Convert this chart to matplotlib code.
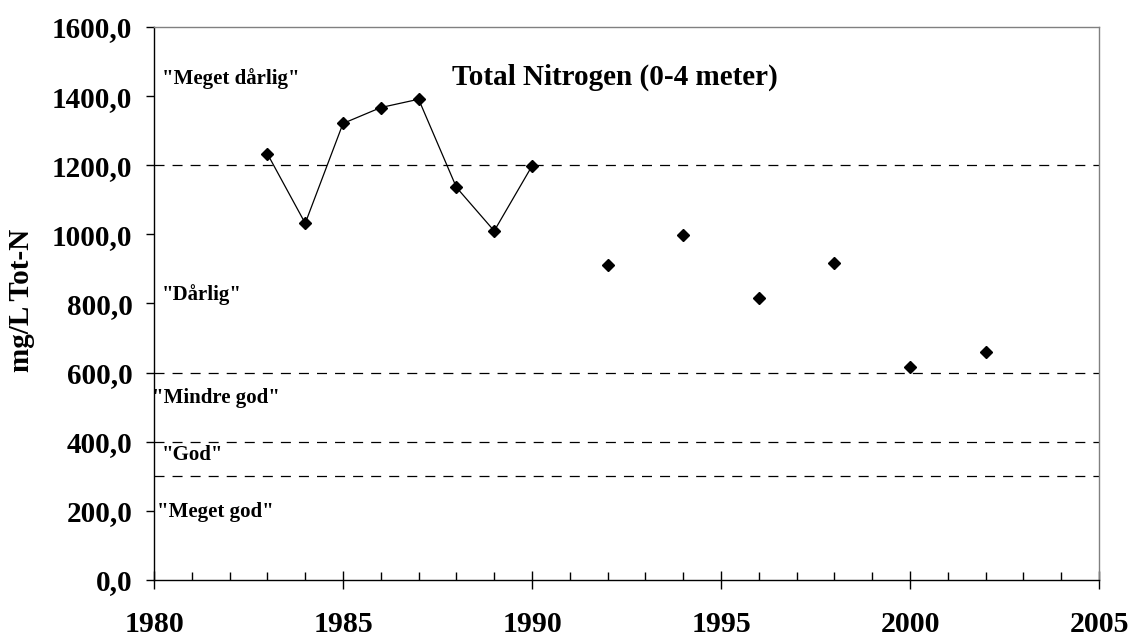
import numpy as np
import matplotlib
matplotlib.use("Agg")
import matplotlib.pyplot as plt
from matplotlib.ticker import MultipleLocator, FuncFormatter

plt.rcParams['font.family'] = ['Liberation Serif', 'DejaVu Serif']
plt.rcParams['font.weight'] = 'bold'
plt.rcParams['lines.scale_dashes'] = False

# Total nitrogen, 0-4 m, yearly means
years_cont = [1983, 1984, 1985, 1986, 1987, 1988, 1989, 1990]
totn_cont = [1233, 1032, 1321, 1367, 1391, 1136, 1010, 1198]
years_sparse = [1992, 1994, 1996, 1998, 2000, 2002]
totn_sparse = [911, 999, 816, 918, 615, 659]

# class limits and class names
limits = [1200, 600, 400, 300]
class_names = ['"Meget dårlig"', '"Dårlig"', '"Mindre god"', '"God"', '"Meget god"']
class_pos = [(1980.21, 1452), (1980.21, 825), (1979.95, 527), (1980.19, 362), (1980.08, 197)]

fig = plt.figure(figsize=(11.3, 6.37), dpi=100)
ax = fig.add_axes([0.1363, 0.0895, 0.8363, 0.8681])

for lim in limits:
    ax.axhline(lim, color='black', lw=0.9, dashes=(7.2, 5.8), zorder=1)

ax.plot(years_cont, totn_cont, color='black', lw=0.9, marker='D', ms=6.5, zorder=3)
ax.plot(years_sparse, totn_sparse, ls='none', color='black', marker='D', ms=6.5, zorder=3)

for name, (x, y) in zip(class_names, class_pos):
    ax.text(x, y, name, fontsize=15, fontweight='bold', ha='left', va='center')

ax.text(0.488, 0.9096, 'Total Nitrogen (0-4 meter)', transform=ax.transAxes,
        fontsize=21, fontweight='bold', ha='center', va='center')

ax.set_xlim(1980, 2005)
ax.set_ylim(0, 1600)
ax.xaxis.set_major_locator(MultipleLocator(5))
ax.xaxis.set_minor_locator(MultipleLocator(1))
ax.yaxis.set_major_locator(MultipleLocator(200))
ax.yaxis.set_major_formatter(FuncFormatter(lambda v, p: f'{v:.1f}'.replace('.', ',')))

ax.tick_params(axis='x', which='major', direction='inout', length=13, width=1,
               labelsize=21.5, pad=15.5)
ax.tick_params(axis='x', which='minor', direction='in', length=5.8, width=1)
ax.tick_params(axis='y', which='major', direction='out', length=6, width=1,
               labelsize=21, pad=9.5)
for lbl in ax.get_xticklabels() + ax.get_yticklabels():
    lbl.set_fontweight('bold')

ax.set_ylabel('mg/L Tot-N', fontsize=21, fontweight='bold')
ax.yaxis.set_label_coords(-0.126, 0.506)

ax.spines['left'].set_color('black')
ax.spines['bottom'].set_color('black')
ax.spines['top'].set_color('#808080')
ax.spines['right'].set_color('#808080')
for s in ax.spines.values():
    s.set_linewidth(1)

fig.savefig('out.png', dpi=100)
